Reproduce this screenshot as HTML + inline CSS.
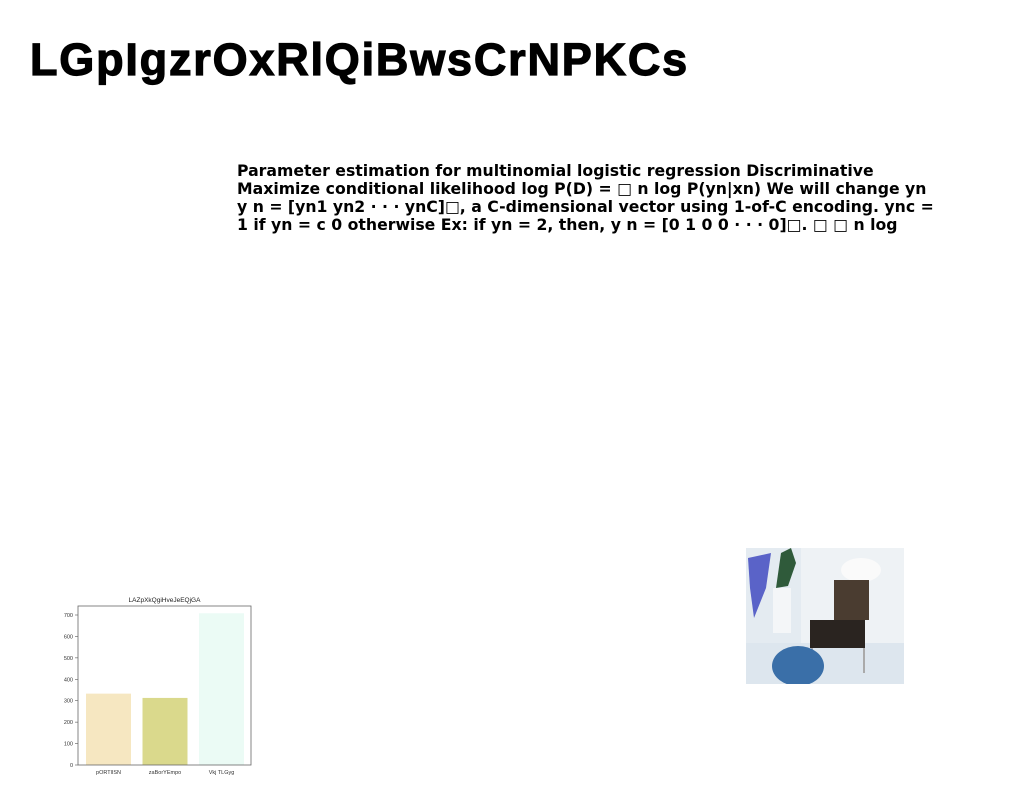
<!DOCTYPE html>
<html><head><meta charset="utf-8"><style>
body{margin:0;width:1024px;height:788px;background:#fff;position:relative;overflow:hidden;font-family:"Liberation Sans",sans-serif}
#title{position:absolute;left:30px;top:34px;font-size:45px;font-weight:900;letter-spacing:1.8px;margin:0;color:#000;font-family:"Liberation Sans",sans-serif;-webkit-text-stroke:1.2px #000}
#para{position:absolute;left:237px;top:162px;width:705px;font-family:"DejaVu Sans",sans-serif;font-weight:bold;font-size:15.7px;line-height:18px;color:#000;margin:0}
#chart{position:absolute;left:50px;top:590px}
#photo{position:absolute;left:746px;top:548px}
</style></head><body>
<h1 id="title">LGpIgzrOxRlQiBwsCrNPKCs</h1>
<p id="para">Parameter estimation for multinomial logistic regression Discriminative Maximize conditional likelihood log P(D) = □ n log P(yn|xn) We will change yn y n = [yn1 yn2 · · · ynC]□, a C-dimensional vector using 1-of-C encoding. ync = 1 if yn = c 0 otherwise Ex: if yn = 2, then, y n = [0 1 0 0 · · · 0]□. □ □ n log</p>
<svg id="chart" width="210" height="190"></svg>
<svg id="photo" width="158" height="136">
<rect width="158" height="136" fill="#e4ebf1"/>
<rect x="55" y="0" width="103" height="95" fill="#eef2f5"/>
<rect x="0" y="95" width="158" height="41" fill="#dde6ee"/>
<path d="M2 10 L25 5 L20 40 L8 70 L4 40Z" fill="#5a63c8"/>
<rect x="27" y="40" width="18" height="45" fill="#f4f6f8"/>
<path d="M30 40 L35 5 L45 0 L50 15 L42 38Z" fill="#2f5a3a"/>
<ellipse cx="115" cy="22" rx="20" ry="12" fill="#fafafa"/>
<rect x="88" y="32" width="35" height="40" fill="#4a3c30"/>
<rect x="64" y="72" width="55" height="28" fill="#2a2420"/>
<line x1="66" y1="100" x2="66" y2="120" stroke="#aaa" stroke-width="2"/>
<line x1="118" y1="100" x2="118" y2="125" stroke="#aaa" stroke-width="2"/>
<ellipse cx="52" cy="118" rx="26" ry="20" fill="#3a6fa8"/>
</svg>
<script>
const categories=["pORTlISN","zaBorYEmpo","Vkj TLGyg"];
const values=[333,313,708];
const colors=["#f6e7c1","#dad98c","#ebfbf5"];
const yTicks=[0,100,200,300,400,500,600,700];
const title="LAZpXkQgiHveJeEQjGA";
const NS="http://www.w3.org/2000/svg";
const svg=document.getElementById('chart');
const L=28,R=201,T=16,B=175,yMax=742;
const y=v=>B-(v/yMax)*(B-T);
const step=56.5,bw=45,x0=L+8;
function mk(tag,attrs){const e=document.createElementNS(NS,tag);for(const k in attrs)e.setAttribute(k,attrs[k]);svg.appendChild(e);return e;}
const t=mk('text',{x:(L+R)/2,y:12,'text-anchor':'middle','font-size':'6.5','fill':'#222'});t.textContent=title;


values.forEach((v,i)=>{
 const r=mk('rect',{x:x0+step*i,y:y(v),width:bw,height:B-y(v),fill:colors[i]});
 
 
 const tl=mk('text',{x:x0+step*i+bw/2,y:B+9,'text-anchor':'middle','font-size':'5.5','fill':'#333'});tl.textContent=categories[i];
 
 
});
yTicks.forEach(v=>{
 mk('line',{x1:L-3,x2:L,y1:y(v),y2:y(v),stroke:'#555','stroke-width':0.6});
 const tl=mk('text',{x:L-5,y:y(v)+2,'text-anchor':'end','font-size':'5.5','fill':'#333'});tl.textContent=v;
 
 
});
const f=mk('rect',{x:L,y:T,width:R-L,height:B-T,fill:'none',stroke:'#666','stroke-width':0.8});


</script>
</body></html>
